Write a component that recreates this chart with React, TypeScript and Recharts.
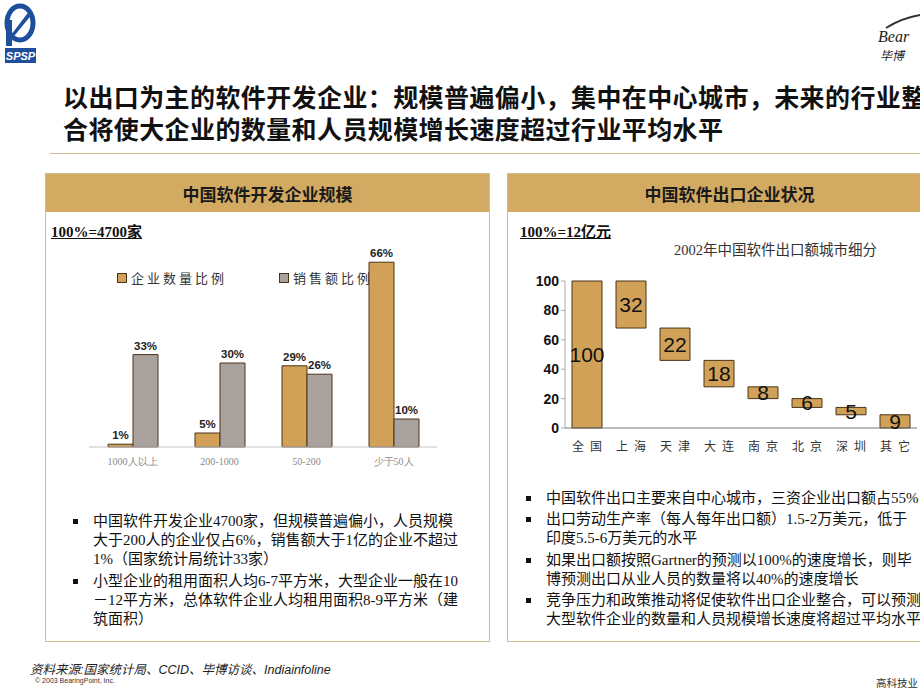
import { Bar, BarChart, LabelList, XAxis, YAxis } from "recharts";

// 左图：企业规模分布
const sizeGroups = ["1000人以上", "200-1000", "50-200", "少于50人"];
const firmShare = [1, 5, 29, 66];
const salesShare = [33, 30, 26, 10];

// 右图：2002年出口额城市细分（瀑布图）
const cities = ["全国", "上海", "天津", "大连", "南京", "北京", "深圳", "其它"];
const cityExport = [100, 32, 22, 18, 8, 6, 5, 9];
const cityOffset = [0, 68, 46, 28, 20, 14, 9, 0];
const exportTicks = [0, 20, 40, 60, 80, 100];

const leftNotes = [
  [
    "中国软件开发企业4700家，但规模普遍偏小，人员规模",
    "大于200人的企业仅占6%，销售额大于1亿的企业不超过",
    "1%（国家统计局统计33家）",
  ],
  [
    "小型企业的租用面积人均6-7平方米，大型企业一般在10",
    "－12平方米，总体软件企业人均租用面积8-9平方米（建",
    "筑面积）",
  ],
];

const rightNotes = [
  ["中国软件出口主要来自中心城市，三资企业出口额占55%"],
  ["出口劳动生产率（每人每年出口额）1.5-2万美元，低于", "印度5.5-6万美元的水平"],
  ["如果出口额按照Gartner的预测以100%的速度增长，则毕", "博预测出口从业人员的数量将以40%的速度增长"],
  ["竞争压力和政策推动将促使软件出口企业整合，可以预测", "大型软件企业的数量和人员规模增长速度将超过平均水平"],
];

const TAN = "#d0a157";
const BAND = "#d3aa62";
const GRAY = "#a9a29e";
const EDGE = "#4a3419";
const FRAME = "#cdbd92";
const CJK = '"Noto Sans CJK SC", sans-serif';
const BODY = '"Liberation Serif", "Noto Sans CJK SC", serif';

const sizeData = sizeGroups.map((g, i) => ({ group: g, firms: firmShare[i], sales: salesShare[i] }));
const cityData = cities.map((c, i) => ({ city: c, offset: cityOffset[i], value: cityExport[i] }));

function Notes({ blocks, tops, left }: { blocks: string[][]; tops: number[]; left: number }) {
  return (
    <>
      {blocks.map((lines, i) => (
        <div key={i} style={{ position: "absolute", left, top: tops[i], fontFamily: BODY, fontSize: 15, lineHeight: "19px", color: "#111", whiteSpace: "nowrap" }}>
          <span style={{ position: "absolute", left: -20, top: 7, width: 5, height: 5, background: "#111" }} />
          {lines.map((l, j) => (
            <div key={j}>{l}</div>
          ))}
        </div>
      ))}
    </>
  );
}

function Panel({ left, title }: { left: number; title: string }) {
  return (
    <div style={{ position: "absolute", left, top: 173, width: 445, height: 469, border: `1px solid ${FRAME}`, boxSizing: "border-box" }}>
      <div style={{ height: 38, background: BAND, textAlign: "center", lineHeight: "40px", fontFamily: CJK, fontWeight: 700, fontSize: 17, color: "#1a1a1a" }}>
        {title}
      </div>
    </div>
  );
}

export default function App() {
  return (
    <div style={{ position: "absolute", left: 0, top: 0, width: 920, height: 690, overflow: "hidden", background: "#fff" }}>
      {/* logos */}
      <svg style={{ position: "absolute", left: 3, top: 2 }} width={34} height={62}>
        <ellipse cx={17} cy={21} rx={13} ry={17} fill="none" stroke="#1d4f9c" strokeWidth={5} />
        <rect x={3} y={18} width={6} height={26} fill="#1d4f9c" />
        <path d="M8 33 L27 8 L30 11 L12 33 Z" fill="#1d4f9c" />
        <rect x={2} y={46} width={31} height={15} fill="#1d4f9c" />
        <text x={17.5} y={58} textAnchor="middle" fontSize={11} fontWeight={700} fontStyle="italic" fill="#fff" fontFamily="Arial">SPSP</text>
      </svg>
      <svg style={{ position: "absolute", left: 874, top: 12 }} width={46} height={52}>
        <path d="M12 16 Q28 6 46 3" fill="none" stroke="#333" strokeWidth={2} />
        <text x={4} y={30} fontSize={16} fontStyle="italic" fill="#222" fontFamily="Liberation Serif">Bear</text>
        <text x={6} y={48} fontSize={12} fontStyle="italic" fill="#222" fontFamily={CJK}>毕博</text>
      </svg>

      {/* heading */}
      <div style={{ position: "absolute", left: 63, top: 80, fontFamily: CJK, fontWeight: 700, fontSize: 25, letterSpacing: 0.4, lineHeight: "32px", color: "#111", whiteSpace: "nowrap" }}>
        <div>以出口为主的软件开发企业：规模普遍偏小，集中在中心城市，未来的行业整</div>
        <div>合将使大企业的数量和人员规模增长速度超过行业平均水平</div>
      </div>
      <div style={{ position: "absolute", left: 50, top: 153, width: 870, height: 1, background: FRAME }} />

      <Panel left={45} title="中国软件开发企业规模" />
      <Panel left={507} title="中国软件出口企业状况" />

      <div style={{ position: "absolute", left: 51, top: 220, fontFamily: BODY, fontWeight: 700, fontSize: 15, textDecoration: "underline", color: "#111" }}>100%=4700家</div>
      <div style={{ position: "absolute", left: 520, top: 220, fontFamily: BODY, fontWeight: 700, fontSize: 15, textDecoration: "underline", color: "#111" }}>100%=12亿元</div>

      {/* left legend */}
      <div style={{ position: "absolute", left: 117, top: 268, display: "flex", alignItems: "center", fontFamily: CJK, fontSize: 13, letterSpacing: 3, color: "#333", whiteSpace: "nowrap" }}>
        <span style={{ width: 8, height: 8, background: TAN, border: `1px solid ${EDGE}`, marginRight: 4 }} />
        <span style={{ marginRight: 52 }}>企业数量比例</span>
        <span style={{ width: 8, height: 8, background: GRAY, border: `1px solid ${EDGE}`, marginRight: 4 }} />
        <span>销售额比例</span>
      </div>

      {/* left chart */}
      <div style={{ position: "absolute", left: 89, top: 231 }}>
        <BarChart width={348} height={246} data={sizeData} margin={{ top: 20, right: 0, left: 0, bottom: 0 }} barSize={25} barGap={0}>
          <XAxis dataKey="group" height={30} tickLine={false} axisLine={{ stroke: "#c4c4c4" }} tick={{ fontSize: 10, fill: "#8a8a8a", dy: 3 }} interval={0} />
          <YAxis hide domain={[0, 70]} />
          <Bar dataKey="firms" fill={TAN} stroke={EDGE} strokeWidth={1} isAnimationActive={false}>
            <LabelList dataKey="firms" position="top" formatter={(v: number) => `${v}%`} style={{ fontSize: 11.5, fontWeight: 700, fill: "#222", fontFamily: "Arial" }} />
          </Bar>
          <Bar dataKey="sales" fill={GRAY} stroke={EDGE} strokeWidth={1} isAnimationActive={false}>
            <LabelList dataKey="sales" position="top" formatter={(v: number) => `${v}%`} style={{ fontSize: 11.5, fontWeight: 700, fill: "#222", fontFamily: "Arial" }} />
          </Bar>
        </BarChart>
      </div>

      {/* right chart */}
      <div style={{ position: "absolute", left: 674, top: 238, fontFamily: BODY, fontSize: 14.5, color: "#333", whiteSpace: "nowrap" }}>2002年中国软件出口额城市细分</div>
      <div style={{ position: "absolute", left: 520, top: 271 }}>
        <BarChart width={397} height={192} data={cityData} margin={{ top: 10, right: 0, left: 0, bottom: 0 }} barSize={30}>
          <XAxis dataKey="city" height={35} tickLine={false} axisLine={{ stroke: "#777" }} interval={0} tick={{ fontSize: 12, fill: "#333", letterSpacing: 6, dx: 3, dy: 6, fontFamily: CJK }} />
          <YAxis width={45} domain={[0, 100]} ticks={exportTicks} tickSize={4} tickMargin={2} axisLine={{ stroke: "#aaa" }} tickLine={{ stroke: "#aaa" }} tick={{ fontSize: 14, fontWeight: 700, fill: "#111", fontFamily: "Arial" }} />
          <Bar dataKey="offset" stackId="w" fill="transparent" isAnimationActive={false} />
          <Bar dataKey="value" stackId="w" fill={TAN} stroke={EDGE} strokeWidth={1} isAnimationActive={false}>
            <LabelList dataKey="value" position="center" style={{ fontSize: 21, fill: "#111", fontFamily: "Arial" }} />
          </Bar>
        </BarChart>
      </div>

      <Notes blocks={leftNotes} tops={[512, 572]} left={93} />
      <Notes blocks={rightNotes} tops={[489, 510, 551, 591]} left={546} />

      {/* footer */}
      <div style={{ position: "absolute", left: 30, top: 659, fontFamily: '"Liberation Sans", "Noto Sans CJK SC", sans-serif', fontStyle: "italic", fontSize: 12.5, color: "#222", whiteSpace: "nowrap" }}>
        资料来源:国家统计局、CCID、毕博访谈、Indiainfoline
      </div>
      <div style={{ position: "absolute", left: 35, top: 677, fontFamily: "Liberation Sans", fontSize: 7, color: "#333" }}>© 2003 BearingPoint, Inc.</div>
      <div style={{ position: "absolute", left: 876, top: 675, fontFamily: CJK, fontSize: 10.5, color: "#333", whiteSpace: "nowrap" }}>高科技业</div>
    </div>
  );
}
